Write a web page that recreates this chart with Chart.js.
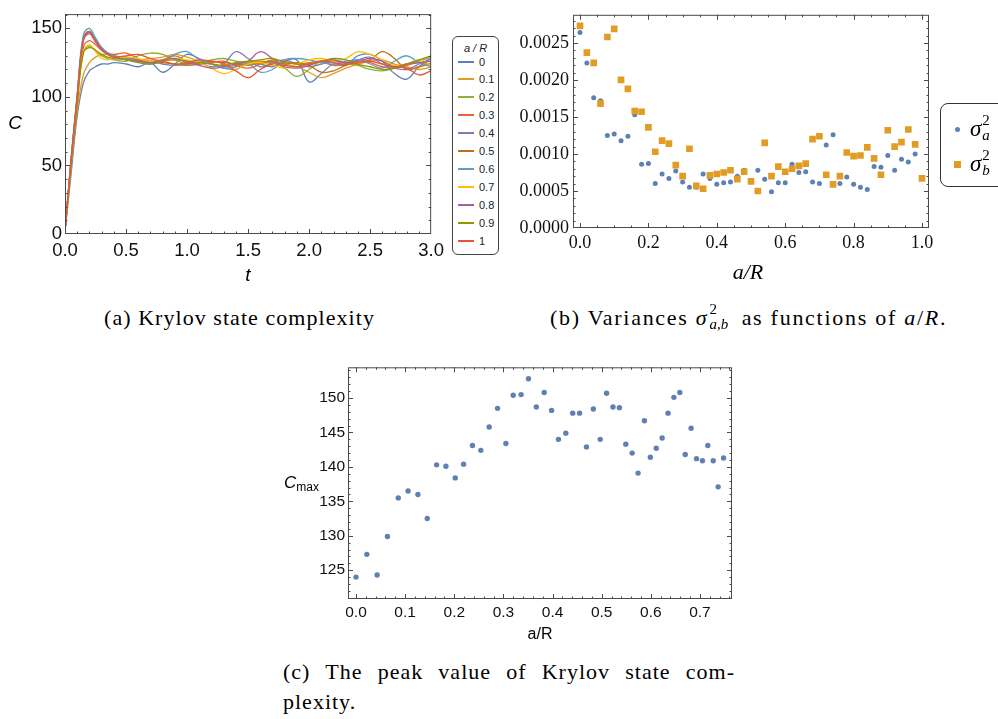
<!DOCTYPE html>
<html lang="en">
<head>
<meta charset="UTF-8">
<title>Krylov state complexity</title>
<script src="https://cdn.jsdelivr.net/npm/chart.js"></script>
<style>
  body {
    margin: 0;
    width: 998px;
    height: 719px;
    overflow: hidden;
    background: #fff;
    position: relative;
    font-family: 'Liberation Sans', Arial, sans-serif;
    color: #000;
  }
  canvas { position: absolute; }
  .serif { font-family: 'Liberation Serif', 'Times New Roman', 'DejaVu Serif', serif; }
  .lbl {
    position: absolute;
    transform: translate(-50%, -50%);
    line-height: 1;
    white-space: nowrap;
  }
  .cap {
    position: absolute;
    font-family: 'Liberation Serif', 'Times New Roman', 'DejaVu Serif', serif;
    font-size: 22px;
    line-height: 22px;
    white-space: nowrap;
    letter-spacing: 1px;
  }
  #legA {
    position: absolute;
    left: 452px; top: 36px;
    width: 45px; height: 217px;
    border: 1px solid #444;
    border-radius: 6px;
    font-size: 11px;
  }
  #legA .item { position: absolute; left: 5px; height: 12px; line-height: 12px; }
  #legA .sw { position: absolute; left: 0; top: 5px; width: 16px; height: 2px; }
  #legA .tx { position: absolute; left: 21px; top: 0; color: #222; }
  #legB {
    position: absolute;
    left: 940px; top: 103px;
    width: 90px; height: 82px;
    border: 1px solid #333;
    border-radius: 8px;
    font-size: 23px;
  }
  #legB .row { position: absolute; left: 0; height: 24px; }
  #legB .mk { position: absolute; }
  #legB .sig { position: absolute; left: 29px; top: 0; line-height: 24px; white-space: nowrap; }
  /* stacked super/subscript */
  .ss {
    display: inline-block;
    position: relative;
    width: 14px;
    height: 1em;
    font-size: 15px;
    letter-spacing: 0;
  }
  .ss .up { position: absolute; left: 1px; top: -0.55em; line-height: 1; }
  .ss .dn { position: absolute; left: 1px; top: 0.45em; line-height: 1; }
  .ss.wide { width: 26px; }
</style>
</head>
<body>

<canvas id="chartA" width="450" height="290" style="left:0;top:0"></canvas>
<canvas id="chartB" width="445" height="290" style="left:500px;top:0"></canvas>
<canvas id="chartC" width="480" height="290" style="left:270px;top:355px"></canvas>

<div class="lbl" style="left:15px;top:122px;font-size:19px;font-style:italic">C</div>
<div class="lbl" style="left:248px;top:274px;font-size:19px;font-style:italic">t</div>
<div id="legA"></div>

<div class="lbl serif" style="left:748px;top:272px;font-size:22px;font-style:italic">a/R</div>
<div id="legB" class="serif">
  <div class="row" style="top:13px">
    <div class="mk" style="left:14px;top:10px;width:5px;height:5px;border-radius:50%;background:#5E81B5"></div>
    <div class="sig"><i>σ</i><span class="ss"><span class="up">2</span><i class="dn">a</i></span></div>
  </div>
  <div class="row" style="top:48px">
    <div class="mk" style="left:13px;top:9px;width:7px;height:7px;background:#E19C24"></div>
    <div class="sig"><i>σ</i><span class="ss"><span class="up">2</span><i class="dn">b</i></span></div>
  </div>
</div>

<div class="lbl" style="left:284px;top:483px;transform:translate(0,-50%);font-size:17px"><i>C</i><span style="font-size:12px;vertical-align:-3px">max</span></div>
<div class="lbl" style="left:540px;top:634px;font-size:16px">a/R</div>

<div class="cap" id="capA" style="left:104px;top:307px">(a) Krylov state complexity</div>
<div class="cap" id="capB" style="left:550px;top:307px">(b) Variances <i>σ</i><span class="ss wide"><span class="up">2</span><i class="dn">a,b</i></span> as functions of <i>a</i>/<i>R</i>.</div>
<div class="cap" id="capC1" style="left:283px;top:661px">(c) The peak value of Krylov state com-</div>
<div class="cap" id="capC2" style="left:283px;top:691px">plexity.</div>

<script>
  // ---- (a) Krylov state complexity C(t) for several a/R ----
  const tValues = [0, 0.05, 0.1, 0.15, 0.2, 0.25, 0.3, 0.35, 0.4, 0.5, 0.6, 0.7, 0.8, 0.9, 1.0,
    1.1, 1.2, 1.3, 1.4, 1.5, 1.6, 1.7, 1.8, 1.9, 2.0, 2.1, 2.2, 2.3, 2.4, 2.5, 2.6, 2.7, 2.8, 2.9, 3.0];

  const curve00 = [2, 44, 86, 110, 119, 122, 124, 124, 125, 124, 122, 125, 118, 124, 131, 128, 124, 121, 122, 125, 124, 122, 126, 127, 111, 117, 124, 123, 130, 131, 126, 117, 113, 122, 128];
  const curve01 = [2, 48, 90, 116, 125, 129, 131, 131, 130, 128, 127, 128, 129, 131, 129, 126, 124, 122, 123, 125, 126, 125, 124, 122, 118, 114, 117, 121, 124, 126, 127, 124, 122, 120, 122];
  const curve02 = [2, 52, 96, 132, 137, 134, 130, 128, 127, 126, 130, 132, 131, 127, 124, 125, 127, 128, 126, 125, 124, 125, 121, 115, 120, 126, 127, 125, 123, 120, 119, 121, 124, 126, 129];
  const curve03 = [2, 53, 98, 136, 141, 138, 134, 132, 131, 132, 128, 125, 127, 130, 126, 124, 125, 126, 123, 121, 124, 127, 126, 124, 125, 126, 123, 124, 127, 125, 122, 121, 123, 125, 124];
  const curve04 = [2, 54, 100, 142, 147, 141, 135, 132, 130, 129, 127, 126, 124, 123, 124, 125, 122, 124, 133, 128, 122, 125, 127, 124, 122, 124, 126, 125, 127, 129, 124, 121, 120, 124, 128];
  const curve05 = [2, 54, 101, 143, 148, 142, 136, 132, 130, 128, 127, 126, 125, 124, 123, 124, 126, 125, 124, 123, 125, 126, 124, 125, 123, 118, 119, 123, 125, 127, 133, 128, 120, 122, 124];
  const curve06 = [2, 55, 102, 145, 150, 143, 136, 132, 130, 128, 126, 124, 126, 131, 133, 127, 124, 121, 120, 124, 118, 120, 127, 128, 127, 125, 124, 126, 127, 124, 121, 126, 130, 125, 122];
  const curve07 = [2, 52, 97, 133, 138, 133, 128, 127, 128, 129, 128, 126, 127, 128, 127, 125, 121, 117, 120, 124, 125, 123, 121, 124, 127, 128, 126, 128, 133, 131, 127, 123, 124, 127, 123];
  const curve08 = [2, 54, 100, 142, 147, 141, 135, 131, 129, 127, 126, 125, 127, 128, 125, 123, 121, 122, 124, 126, 133, 128, 122, 121, 123, 126, 127, 125, 126, 128, 126, 122, 124, 125, 126];
  const curve09 = [2, 51, 95, 132, 136, 134, 131, 129, 128, 127, 125, 124, 126, 127, 126, 125, 124, 123, 125, 126, 127, 128, 125, 124, 124, 126, 128, 127, 124, 122, 120, 121, 124, 127, 130];
  const curve10 = [2, 53, 99, 141, 146, 140, 134, 131, 129, 130, 131, 128, 126, 124, 125, 127, 126, 124, 119, 114, 120, 124, 123, 122, 124, 126, 125, 124, 125, 126, 124, 122, 121, 116, 119];

  const ratioLabels = ['0', '0.1', '0.2', '0.3', '0.4', '0.5', '0.6', '0.7', '0.8', '0.9', '1'];
  const curveColors = ['#5E81B5', '#E19C24', '#8FB032', '#EB6235', '#8778B3', '#C56E1A',
    '#5D9EC7', '#FFBF00', '#A5609D', '#929600', '#E95536'];
  const xTicksA = [0, 0.5, 1, 1.5, 2, 2.5, 3];
  const yTicksA = [0, 50, 100, 150];

  // ---- (b) variances sigma_a^2, sigma_b^2 vs a/R ----
  const ratioB = [0, 0.02, 0.04, 0.06, 0.08, 0.1, 0.12, 0.14, 0.16, 0.18, 0.2, 0.22, 0.24, 0.26, 0.28, 0.3,
    0.32, 0.34, 0.36, 0.38, 0.4, 0.42, 0.44, 0.46, 0.48, 0.5, 0.52, 0.54, 0.56, 0.58, 0.6, 0.62, 0.64,
    0.66, 0.68, 0.7, 0.72, 0.74, 0.76, 0.78, 0.8, 0.82, 0.84, 0.86, 0.88, 0.9, 0.92, 0.94, 0.96, 0.98, 1.0];
  const sigmaA = [0.00264, 0.00223, 0.00176, 0.00172, 0.00125, 0.00127, 0.00118, 0.00124, 0.00153, 0.00086,
    0.00087, 0.00060, 0.00073, 0.00067, 0.00077, 0.00062, 0.00055, 0.00055, 0.00073, 0.00067, 0.00059,
    0.00061, 0.00062, 0.00070, 0.00078, 0.00063, 0.00078, 0.00066, 0.00049, 0.00061, 0.00061, 0.00086,
    0.00075, 0.00076, 0.00062, 0.00060, 0.00112, 0.00126, 0.00060, 0.00069, 0.00059, 0.00055, 0.00052,
    0.00083, 0.00082, 0.00098, 0.00078, 0.00093, 0.00089, 0.00100, 0.00067];
  const sigmaB = [0.00273, 0.00237, 0.00223, 0.00168, 0.00258, 0.00269, 0.00200, 0.00188, 0.00158, 0.00157,
    0.00136, 0.00103, 0.00118, 0.00114, 0.00085, 0.00070, 0.00107, 0.00057, 0.00053, 0.00071, 0.00073,
    0.00075, 0.00078, 0.00066, 0.00076, 0.00063, 0.00050, 0.00115, 0.00070, 0.00083, 0.00076, 0.00080,
    0.00084, 0.00087, 0.00120, 0.00124, 0.00072, 0.00059, 0.00070, 0.00102, 0.00097, 0.00098, 0.00109,
    0.00094, 0.00072, 0.00132, 0.00110, 0.00116, 0.00133, 0.00113, 0.00067];
  const xTicksB = [0, 0.2, 0.4, 0.6, 0.8, 1.0];
  const yTicksB = [0, 0.0005, 0.001, 0.0015, 0.002, 0.0025];

  // ---- (c) peak complexity C_max vs a/R ----
  const cmaxX = [0.000, 0.022, 0.043, 0.064, 0.086, 0.106, 0.126, 0.145, 0.164, 0.183, 0.202, 0.219, 0.237,
    0.254, 0.271, 0.288, 0.305, 0.320, 0.336, 0.351, 0.367, 0.383, 0.398, 0.412, 0.427, 0.441, 0.455,
    0.469, 0.483, 0.497, 0.510, 0.523, 0.536, 0.549, 0.562, 0.574, 0.587, 0.599, 0.611, 0.623, 0.635,
    0.647, 0.659, 0.670, 0.682, 0.693, 0.705, 0.716, 0.727, 0.737, 0.748];
  const cmaxY = [124.0, 127.3, 124.3, 129.9, 135.5, 136.5, 136.0, 132.5, 140.3, 140.1, 138.4, 140.4, 143.1,
    142.4, 145.8, 148.5, 143.4, 150.4, 150.5, 152.8, 148.7, 150.8, 148.2, 144.0, 144.9, 147.8, 147.8,
    142.9, 148.4, 144.0, 150.7, 148.7, 148.6, 143.3, 142.0, 139.1, 146.7, 141.4, 142.7, 144.2, 147.8,
    150.1, 150.8, 141.8, 145.6, 141.2, 140.9, 143.1, 140.9, 137.1, 141.3];
  const xTicksC = [0, 0.1, 0.2, 0.3, 0.4, 0.5, 0.6, 0.7];
  const yTicksC = [125, 130, 135, 140, 145, 150];

  const curves = [curve00, curve01, curve02, curve03, curve04, curve05, curve06, curve07, curve08, curve09, curve10];

  const SERIF = "'Liberation Serif', 'Times New Roman', 'DejaVu Serif', serif";
  const SANS = "'Liberation Sans', Arial, sans-serif";

  // minor tick positions for the Mathematica style frame
  function steps(from, to, step) {
    const out = [];
    for (let v = from; v <= to + step / 2; v += step) out.push(Math.round(v * 1e6) / 1e6);
    return out;
  }

  // frame with inward ticks on all four sides
  const frameTicks = {
    id: 'frameTicks',
    afterDraw(chart, args, o) {
      const { ctx, chartArea: a, scales: { x, y } } = chart;
      ctx.save();
      ctx.strokeStyle = '#4a4a4a';
      ctx.lineWidth = 1;
      ctx.beginPath();
      const onX = (vals, len) => vals.forEach(v => {
        const p = Math.round(x.getPixelForValue(v)) + 0.5;
        if (p < a.left || p > a.right) return;
        ctx.moveTo(p, a.bottom); ctx.lineTo(p, a.bottom - len);
        ctx.moveTo(p, a.top); ctx.lineTo(p, a.top + len);
      });
      const onY = (vals, len) => vals.forEach(v => {
        const p = Math.round(y.getPixelForValue(v)) + 0.5;
        if (p < a.top || p > a.bottom) return;
        ctx.moveTo(a.left, p); ctx.lineTo(a.left + len, p);
        ctx.moveTo(a.right, p); ctx.lineTo(a.right - len, p);
      });
      onX(o.xMinor, 2.5); onX(o.xMajor, 5);
      onY(o.yMinor, 2.5); onY(o.yMajor, 5);
      ctx.stroke();
      ctx.strokeRect(a.left + 0.5, a.top + 0.5, a.right - a.left - 1, a.bottom - a.top - 1);
      ctx.restore();
    }
  };

  function axis(min, max, ticks, fmt, font, pad, size, horizontal) {
    return {
      type: 'linear', min, max,
      grid: { display: false, drawTicks: false },
      border: { display: false },
      ticks: { font, color: '#111', padding: pad, autoSkip: false, maxRotation: 0, callback: fmt },
      afterBuildTicks: s => { s.ticks = ticks.map(v => ({ value: v })); },
      afterFit: s => { if (horizontal) s.height = size; else s.width = size; }
    };
  }

  const common = {
    responsive: false,
    animation: false,
    events: [],
  };

  // (a)
  new Chart(document.getElementById('chartA'), {
    type: 'scatter',
    data: {
      datasets: curves.map((c, i) => ({
        label: ratioLabels[i],
        data: c.map((v, k) => ({ x: tValues[k], y: v })),
        showLine: true,
        borderColor: curveColors[i],
        borderWidth: 1.3,
        pointRadius: 0,
        tension: 0.4,
        order: -i
      }))
    },
    options: Object.assign({}, common, {
      layout: { padding: { left: 0, top: 7, right: 18, bottom: 26 } },
      scales: {
        x: axis(0, 3, xTicksA, v => v.toFixed(1), { family: SANS, size: 18.5 }, 6, 30, true),
        y: axis(0, 160.4, yTicksA, v => String(v), { family: SANS, size: 18.5 }, 3, 65, false)
      },
      plugins: {
        legend: { display: false }, tooltip: { enabled: false },
        frameTicks: { xMajor: xTicksA, xMinor: steps(0, 3, 0.1), yMajor: yTicksA, yMinor: steps(0, 160, 10) }
      }
    }),
    plugins: [frameTicks]
  });

  // (b)
  new Chart(document.getElementById('chartB'), {
    type: 'scatter',
    data: {
      datasets: [
        { label: 'sigma_a^2', data: ratioB.map((r, i) => ({ x: r, y: sigmaA[i] })),
          backgroundColor: '#5E81B5', borderWidth: 0, pointRadius: 2.5, pointStyle: 'circle', order: 0 },
        { label: 'sigma_b^2', data: ratioB.map((r, i) => ({ x: r, y: sigmaB[i] })),
          backgroundColor: '#E19C24', borderWidth: 0, pointRadius: 4.7, pointStyle: 'rect', order: -1 }
      ]
    },
    options: Object.assign({}, common, {
      layout: { padding: { left: 0, top: 7, right: 16, bottom: 32 } },
      scales: {
        x: axis(-0.0205, 1.0205, xTicksB, v => v.toFixed(1), { family: SERIF, size: 18 }, 4, 30, true),
        y: axis(0, 0.00288, yTicksB, v => v.toFixed(4), { family: SERIF, size: 18 }, 4, 73, false)
      },
      plugins: {
        legend: { display: false }, tooltip: { enabled: false },
        frameTicks: { xMajor: xTicksB, xMinor: steps(0, 1, 0.05), yMajor: yTicksB, yMinor: steps(0, 0.0028, 0.0001) }
      }
    }),
    plugins: [frameTicks]
  });

  // (c)
  new Chart(document.getElementById('chartC'), {
    type: 'scatter',
    data: {
      datasets: [{ label: 'C_max', data: cmaxX.map((r, i) => ({ x: r, y: cmaxY[i] })),
        backgroundColor: '#5E81B5', borderWidth: 0, pointRadius: 2.7 }]
    },
    options: Object.assign({}, common, {
      layout: { padding: { left: 0, top: 8, right: 18, bottom: 16 } },
      scales: {
        x: axis(-0.0163, 0.7652, xTicksC, v => v.toFixed(1), { family: SANS, size: 15.5 }, 4, 30, true),
        y: axis(120.82, 154.46, yTicksC, v => String(v), { family: SANS, size: 15.5 }, 3, 78, false)
      },
      plugins: {
        legend: { display: false }, tooltip: { enabled: false },
        frameTicks: { xMajor: xTicksC, xMinor: steps(0, 0.76, 0.02), yMajor: yTicksC, yMinor: steps(121, 154, 1) }
      }
    }),
    plugins: [frameTicks]
  });

  // legend of panel (a)
  const legA = document.getElementById('legA');
  legA.innerHTML = '<div style="position:absolute;left:0;width:45px;top:5px;text-align:center;font-style:italic;color:#222">a / R</div>';
  ratioLabels.forEach((lab, i) => {
    const it = document.createElement('div');
    it.className = 'item';
    it.style.top = Math.round(18.5 + i * 17.94) + 'px';
    it.innerHTML = '<div class="sw" style="background:' + curveColors[i] + '"></div><div class="tx">' + lab + '</div>';
    legA.appendChild(it);
  });

  // stretch caption lines to the widths of the typeset original
  function fitLetters(id, target) {
    const el = document.getElementById(id);
    const w = el.getBoundingClientRect().width;
    const n = el.textContent.length;
    const cur = parseFloat(getComputedStyle(el).letterSpacing) || 0;
    el.style.letterSpacing = Math.max(0, cur + (target - w) / n) + 'px';
  }
  function fitWords(id, target) {
    const el = document.getElementById(id);
    const w = el.getBoundingClientRect().width;
    const n = (el.textContent.match(/ /g) || []).length;
    el.style.wordSpacing = Math.max(0, (target - w) / n) + 'px';
  }
  fitLetters('capA', 271);
  fitLetters('capB', 400);
  fitWords('capC1', 452);
</script>
</body>
</html>
